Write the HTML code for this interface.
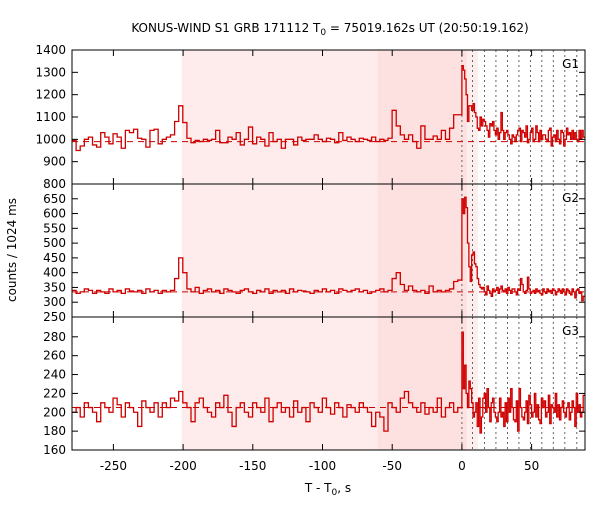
<!DOCTYPE html>
<html><head><meta charset="utf-8"><style>
body{margin:0;background:#fff;}
svg text{font-family:"DejaVu Sans","Liberation Sans",sans-serif;font-size:12px;fill:#000;}
</style></head><body>
<svg id="chart" width="600" height="500" xmlns="http://www.w3.org/2000/svg">
<text x="330" y="32" text-anchor="middle">KONUS-WIND S1 GRB 171112 T<tspan font-size="9" dy="3">0</tspan><tspan dy="-3"> = 75019.162s UT (20:50:19.162)</tspan></text>
<text x="328" y="492" text-anchor="middle">T - T<tspan font-size="9" dy="3">0</tspan><tspan dy="-3">, s</tspan></text>
<text transform="translate(16,250) rotate(-90)" text-anchor="middle">counts / 1024 ms</text>
</svg>
<script>
const xTicks=[-250,-200,-150,-100,-50,0,50];
const dotLines=[0,7.6,16.2,24.4,32.7,40.9,49.2,57.3,65.6,73.8,82.4];
const preStart=-279.7, preWidth=2.944, postWidth=1.0;
const g1Pre=[995,950,970,1000,1010,975,965,1030,1010,980,1025,1010,960,1040,1030,1045,1005,1000,965,1040,1045,980,1000,1010,1020,
1080,1150,1075,
1005,985,995,990,1000,995,1000,1040,985,985,1010,1000,1030,975,1000,1055,980,1010,1000,970,1030,990,1000,960,1000,1000,975,1010,995,1000,1000,1020,1000,990,1005,1000,985,1030,995,1010,1000,990,1005,1000,995,1010,990,1000,995,1005,
1130,1060,1020,
1000,1020,990,960,1060,1000,1000,1015,1000,1040,1000,1050,1110,1110];
const g1Post=[1330,1310,1270,1200,1080,1150,1150,1130,1160,1120,1100,1050,1040,1100,1060,1090,1080,1060,1040,1010,1070,1060,1080,1040,1020,1050,1000,1030,1120,1040,1000,1030,1040,1020,1000,980,1020,1010,990,1020,1040,1050,990,1040,1030,1010,1060,985,1000,1030,1050,990,1000,1060,1030,990,1040,1000,1020,1020,1000,990,1040,1050,970,1010,1020,990,1040,1000,980,1040,1030,970,1000,1050,1020,1030,1000,1040,1000,1030,1000,990,1040,1000,1040,1010];
const g2Pre=[340,330,335,345,340,330,340,335,330,345,335,340,330,345,338,335,340,330,345,335,340,330,340,335,340,
380,450,400,
345,335,350,330,340,345,335,340,330,345,340,335,330,340,345,335,330,340,335,345,330,340,335,340,330,345,335,340,338,335,330,340,335,345,335,340,330,345,340,335,340,345,335,340,330,335,340,345,335,340,
380,400,360,
340,355,340,335,340,330,355,335,340,335,340,345,370,375];
const g2Post=[650,600,655,620,500,420,370,460,470,430,420,380,360,350,345,350,335,325,355,340,330,320,345,335,340,350,330,345,355,340,335,345,330,350,340,330,345,345,335,325,345,340,380,360,335,330,340,385,345,330,335,340,330,345,335,340,330,325,345,335,330,345,335,340,330,345,340,325,335,345,340,330,345,335,325,345,340,330,325,345,335,315,340,345,330,335,305,320];
const g3Pre=[200,205,195,210,205,200,190,210,205,200,215,208,195,210,205,200,185,212,205,200,210,195,210,205,215,
212,222,210,
205,190,210,215,205,200,195,210,205,218,200,185,205,210,200,195,210,205,200,215,190,205,210,200,205,195,212,200,205,190,210,205,200,215,205,198,210,205,195,208,205,200,210,205,200,185,200,195,180,210,205,200,
215,222,210,
205,200,210,198,205,200,215,195,205,210,200,205,215,215];
const g3Post=[285,225,250,220,205,233,225,210,195,200,210,185,215,178,195,215,220,200,225,205,190,210,215,200,195,190,200,215,195,200,185,210,190,215,200,225,205,192,190,212,180,225,205,195,192,200,212,188,218,208,195,200,220,195,208,192,188,215,205,212,195,200,218,188,208,205,200,220,195,208,192,205,212,200,195,205,210,192,200,212,205,185,220,200,208,195,200,218];
const panels=[
 {name:'g1',label:'G1',top:50,bot:184,ymin:800,ymax:1400,ticks:[800,900,1000,1100,1200,1300,1400],bg:990,pre:g1Pre,post:g1Post},
 {name:'g2',label:'G2',top:184,bot:317,ymin:250,ymax:700,ticks:[250,300,350,400,450,500,550,600,650],bg:335,pre:g2Pre,post:g2Post},
 {name:'g3',label:'G3',top:317,bot:450,ymin:160,ymax:301,ticks:[160,180,200,220,240,260,280],bg:205,pre:g3Pre,post:g3Post}
];
const L=72,R=585,XMIN=-279.7,XMAX=88.3;
const svg=document.getElementById('chart');
const NS='http://www.w3.org/2000/svg';
function X(t){return L+(t-XMIN)/(XMAX-XMIN)*(R-L);}
function mk(tag,attrs){const e=document.createElementNS(NS,tag);for(const k in attrs)e.setAttribute(k,attrs[k]);svg.appendChild(e);return e;}
panels.forEach((p,pi)=>{
 const Y=v=>p.bot-(v-p.ymin)/(p.ymax-p.ymin)*(p.bot-p.top);
 let r=mk('rect',{x:X(-201),y:p.top,width:X(-60.6)-X(-201),height:p.bot-p.top,fill:'#fdeceb'});
 
 
 r=mk('rect',{x:X(-60.6),y:p.top,width:X(3.6)-X(-60.6),height:p.bot-p.top,fill:'#fde0e0'});
 
 
 r=mk('rect',{x:X(3.6),y:p.top,width:X(11.5)-X(3.6),height:p.bot-p.top,fill:'#fdeeee'});
 
 
 dotLines.forEach(t=>{const l=mk('line',{x1:X(t),x2:X(t),y1:p.top,y2:p.bot,stroke:'#666','stroke-dasharray':'2,3','stroke-width':1});
  
  });
 const bl=mk('line',{x1:L,x2:R,y1:Y(p.bg),y2:Y(p.bg),stroke:'#c00','stroke-dasharray':'6,5','stroke-width':1});
 
 
 let d='';let first=true;
 const addBin=(t0,t1,v)=>{const y=Y(Math.max(p.ymin,Math.min(p.ymax,v)));
  if(first){d+='M'+X(t0)+','+y;first=false;}else d+='L'+X(t0)+','+y;d+='L'+X(t1)+','+y;};
 p.pre.forEach((v,i)=>{const t0=preStart+i*preWidth;const t1=Math.min(0,t0+preWidth);if(t0<0)addBin(t0,t1,v);});
 p.post.forEach((v,i)=>{const t0=i*postWidth;const t1=Math.min(XMAX,t0+postWidth);if(t0<XMAX)addBin(t0,t1,v);});
 const path=mk('path',{d:d,fill:'none',stroke:'#d00000','stroke-width':1.3});
 
 
 const fr=mk('rect',{x:L,y:p.top,width:R-L,height:p.bot-p.top,fill:'none',stroke:'#000','stroke-width':1});
 
 
 p.ticks.forEach(v=>{const y=Y(v);
  mk('line',{x1:L,x2:L+6,y1:y,y2:y,stroke:'#000'});mk('line',{x1:R,x2:R-6,y1:y,y2:y,stroke:'#000'});
  const tx=mk('text',{x:L-6,y:y+4,'text-anchor':'end'});tx.textContent=v;
  
  });
 xTicks.forEach(t=>{mk('line',{x1:X(t),x2:X(t),y1:p.bot,y2:p.bot-6,stroke:'#000'});mk('line',{x1:X(t),x2:X(t),y1:p.top,y2:p.top+6,stroke:'#000'});});
 const lb=mk('text',{x:R-6,y:p.top+18,'text-anchor':'end'});lb.textContent=p.label;
 
 
});
xTicks.forEach(t=>{const tx=mk('text',{x:X(t),y:470,'text-anchor':'middle'});tx.textContent=t;
 
 });
</script>
</body></html>
